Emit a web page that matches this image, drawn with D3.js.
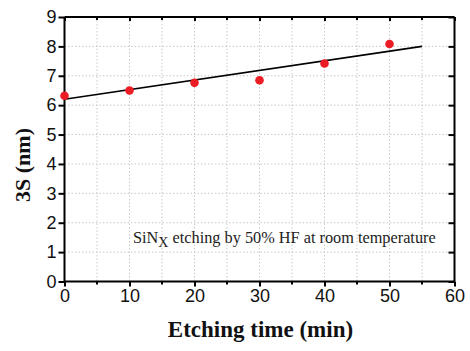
<!DOCTYPE html>
<html>
<head>
<meta charset="utf-8">
<script src="https://cdn.jsdelivr.net/npm/d3@7"></script>
<style>
  body { margin: 0; background: #fff; }
  svg { display: block; }
</style>
</head>
<body>
<script>
// measured points
var etchTime = [0, 10, 20, 30, 40, 50];
var threeSigma = [6.32, 6.50, 6.76, 6.85, 7.42, 8.08];

// linear fit line ends
var fitTime = [0, 55];
var fitValue = [6.20, 8.0];

var xTicks = [0, 10, 20, 30, 40, 50, 60];
var yTicks = [0, 1, 2, 3, 4, 5, 6, 7, 8, 9];

var width = 470, height = 351;
var plotLeft = 64.5, plotRight = 454.5, plotTop = 17, plotBottom = 281.5;

var svg = d3.select("body").append("svg")
  .attr("width", width)
  .attr("height", height);

var x = d3.scaleLinear().domain([0, 60]).range([plotLeft, plotRight]);
var y = d3.scaleLinear().domain([0, 9]).range([plotBottom, plotTop]);

// dotted grid
var grid = svg.append("g");
grid.selectAll(".gx")
  .data(d3.range(5, 60, 5))
  .enter().append("line")
  .attr("x1", d => x(d)).attr("x2", d => x(d))
  .attr("y1", plotTop).attr("y2", plotBottom)
  .style("stroke", "#c8c8c8")
  .style("stroke-width", 1)
  .style("stroke-dasharray", "1.5,2");
grid.selectAll(".gy")
  .data(d3.range(1, 9))
  .enter().append("line")
  .attr("x1", plotLeft).attr("x2", plotRight)
  .attr("y1", d => y(d)).attr("y2", d => y(d))
  .style("stroke", "#c8c8c8")
  .style("stroke-width", 1)
  .style("stroke-dasharray", "1.5,2");

// axes
var minorX = d3.range(5, 60, 10);

var bottomAxis = svg.append("g")
  .attr("transform", `translate(0,${plotBottom})`)
  .call(d3.axisBottom(x).tickValues(xTicks).tickSize(5).tickPadding(3));

var leftAxis = svg.append("g")
  .attr("transform", `translate(${plotLeft},0)`)
  .call(d3.axisLeft(y).tickValues(yTicks).tickSize(6).tickPadding(2));

var topAxis = svg.append("g")
  .attr("transform", `translate(0,${plotTop})`)
  .call(d3.axisBottom(x).tickValues(xTicks).tickSize(4).tickFormat(""));

var rightAxis = svg.append("g")
  .attr("transform", `translate(${plotRight},0)`)
  .call(d3.axisLeft(y).tickValues(yTicks).tickSize(6).tickFormat(""));

// minor ticks
svg.append("g").selectAll("line")
  .data(minorX)
  .enter().append("line")
  .attr("x1", d => x(d)).attr("x2", d => x(d))
  .attr("y1", plotBottom).attr("y2", plotBottom + 3)
  .style("stroke", "#000").style("stroke-width", 2);
svg.append("g").selectAll("line")
  .data(minorX)
  .enter().append("line")
  .attr("x1", d => x(d)).attr("x2", d => x(d))
  .attr("y1", plotTop).attr("y2", plotTop + 3)
  .style("stroke", "#000").style("stroke-width", 2);

[bottomAxis, leftAxis, topAxis, rightAxis].forEach(function (g) {
  g.select(".domain").style("stroke", "#000").style("stroke-width", 2);
  g.selectAll(".tick line").style("stroke", "#000").style("stroke-width", 2);
  g.selectAll("text")
    .style("font-family", "Liberation Sans, Arial, sans-serif")
    .style("font-size", "18px")
    .style("fill", "#111");
});
topAxis.select(".domain").attr("d", `M${plotLeft},0H${plotRight}`);
rightAxis.select(".domain").attr("d", `M0,${plotTop}V${plotBottom}`);
bottomAxis.select(".domain").attr("d", `M${plotLeft},0H${plotRight}`);
leftAxis.select(".domain").attr("d", `M0,${plotTop}V${plotBottom}`);

// fit line
var fitData = fitTime.map((t, i) => [t, fitValue[i]]);
svg.append("path")
  .datum(fitData)
  .attr("d", d3.line().x(d => x(d[0])).y(d => y(d[1])))
  .style("fill", "none")
  .style("stroke", "#000")
  .style("stroke-width", 1.6);

// points
svg.append("g").selectAll("circle")
  .data(etchTime)
  .enter().append("circle")
  .attr("cx", (d) => x(d))
  .attr("cy", (d, i) => y(threeSigma[i]))
  .attr("r", 4.3)
  .style("fill", "#ec1c24");

// annotation
var note = svg.append("text")
  .attr("x", 133)
  .attr("y", 243)
  .style("font-family", "Liberation Serif, Times New Roman, serif")
  .style("font-size", "16.3px")
  .style("fill", "#222");
note.append("tspan").text("SiN");
note.append("tspan").attr("dy", 4).style("font-size", "14px").text("X");
note.append("tspan").attr("dy", -4).text(" etching by 50% HF at room temperature");

// axis titles
svg.append("text")
  .attr("x", (plotLeft + plotRight) / 2 + 1)
  .attr("y", 337)
  .attr("text-anchor", "middle")
  .style("font-family", "Liberation Serif, Times New Roman, serif")
  .style("font-weight", "bold")
  .style("font-size", "23px")
  .style("fill", "#111")
  .text("Etching time (min)");

svg.append("text")
  .attr("transform", "translate(30,165) rotate(-90)")
  .attr("text-anchor", "middle")
  .style("font-family", "Liberation Serif, Times New Roman, serif")
  .style("font-weight", "bold")
  .style("font-size", "22px")
  .style("fill", "#111")
  .text("3S (nm)");
</script>
</body>
</html>
